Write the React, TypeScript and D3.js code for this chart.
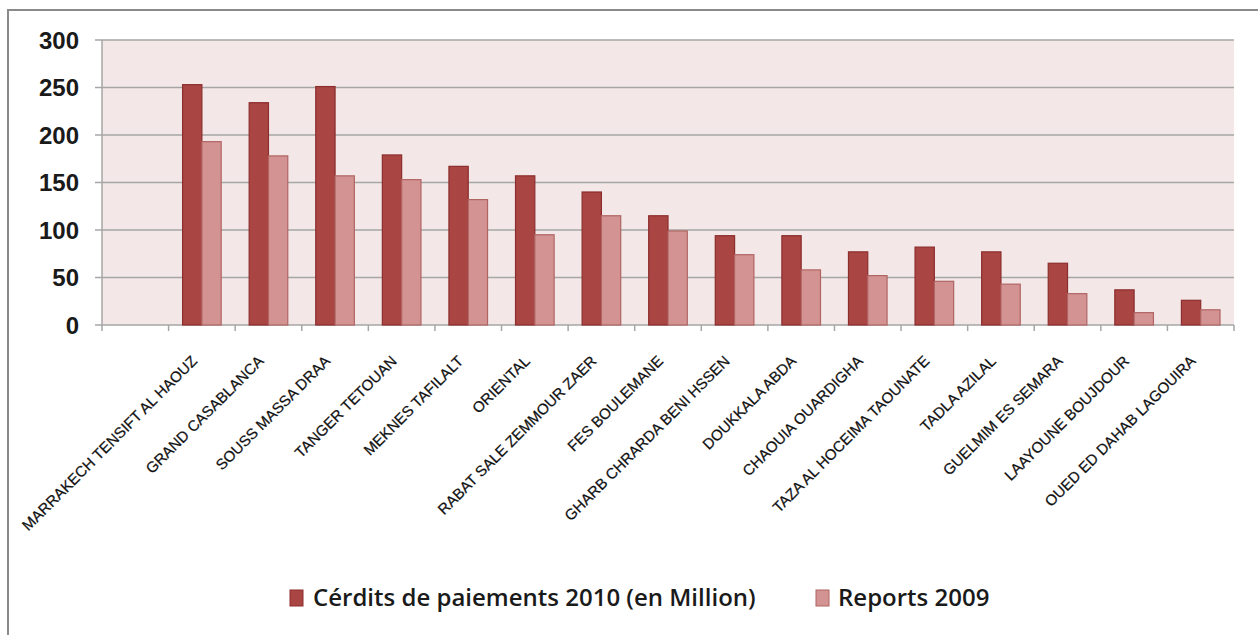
import React from "react";
import * as d3 from "d3";

const categories = [
  "",
  "MARRAKECH TENSIFT AL HAOUZ",
  "GRAND CASABLANCA",
  "SOUSS MASSA DRAA",
  "TANGER TETOUAN",
  "MEKNES TAFILALT",
  "ORIENTAL",
  "RABAT SALE ZEMMOUR ZAER",
  "FES BOULEMANE",
  "GHARB CHRARDA BENI HSSEN",
  "DOUKKALA ABDA",
  "CHAOUIA OUARDIGHA",
  "TAZA AL HOCEIMA TAOUNATE",
  "TADLA AZILAL",
  "GUELMIM ES SEMARA",
  "LAAYOUNE BOUJDOUR",
  "OUED ED DAHAB LAGOUIRA",
];

const credits2010: (number | null)[] = [null, 253, 234, 251, 179, 167, 157, 140, 115, 94, 94, 77, 82, 77, 65, 37, 26];
const reports2009: (number | null)[] = [null, 193, 178, 157, 153, 132, 95, 115, 99, 74, 58, 52, 46, 43, 33, 13, 16];

const yTicks = [0, 50, 100, 150, 200, 250, 300];

const seriesNames = ["Cérdits de paiements 2010 (en Million)", "Reports 2009"];

const W = 1258;
const H = 635;
const plot = { left: 102, right: 1234, top: 40, bottom: 325 };

const darkFill = "#A94543";
const darkStroke = "#8C2E2D";
const lightFill = "#D39392";
const lightStroke = "#B06563";

export default function App() {
  const x = d3.scaleBand<string>().domain(categories).range([plot.left, plot.right]).padding(0);
  const y = d3.scaleLinear().domain([0, 300]).range([plot.bottom, plot.top]);
  const bw = x.bandwidth();
  const barW = bw / (2 + 1.45);
  const off = (bw - 2 * barW) / 2;

  const series = [
    { values: credits2010, fill: darkFill, stroke: darkStroke },
    { values: reports2009, fill: lightFill, stroke: lightStroke },
  ];

  const tickXs = categories.map((c) => x(c)!).concat([plot.right]);

  return (
    <svg width={W} height={H} style={{ position: "absolute", left: 0, top: 0, background: "#fff" }}>
      {/* outer border */}
      <rect x={8} y={10} width={W + 20} height={H + 20} fill="none" stroke="#8a8a8a" strokeWidth={2} />
      {/* plot background */}
      <rect x={plot.left} y={plot.top} width={plot.right - plot.left} height={plot.bottom - plot.top} fill="#F3E7E7" />
      {/* gridlines */}
      {yTicks.map((t) => (
        <line key={"g" + t} x1={plot.left - 7} x2={plot.right} y1={y(t)} y2={y(t)} stroke="#A6A6A6" strokeWidth={1.5} />
      ))}
      {/* y axis line */}
      <line x1={plot.left} x2={plot.left} y1={plot.top} y2={plot.bottom} stroke="#A6A6A6" strokeWidth={1.5} />
      {/* x tick marks */}
      {tickXs.map((tx, i) => (
        <line key={"xt" + i} x1={tx} x2={tx} y1={plot.bottom} y2={plot.bottom + 6} stroke="#A6A6A6" strokeWidth={1.5} />
      ))}
      {/* y labels */}
      {yTicks.map((t) => (
        <text
          key={"yl" + t}
          x={79}
          y={y(t)}
          dy="0.36em"
          textAnchor="end"
          fontFamily="'Liberation Sans', Arial, sans-serif"
          fontWeight="bold"
          fontSize={24}
          fill="#1a1a1a"
        >
          {t}
        </text>
      ))}
      {/* bars */}
      {series.map((s, si) =>
        categories.map((c, i) => {
          const v = s.values[i];
          if (v == null) return null;
          const bx = x(c)! + off + si * barW;
          return (
            <rect
              key={"b" + si + "-" + i}
              x={bx}
              y={y(v)}
              width={barW}
              height={y(0) - y(v)}
              fill={s.fill}
              stroke={s.stroke}
              strokeWidth={1.2}
            />
          );
        })
      )}
      {/* x labels */}
      {categories.map((c) => {
        if (!c) return null;
        const cx = x(c)! + bw / 2;
        return (
          <text
            key={"xl" + c}
            transform={`translate(${cx - 4},${362}) rotate(-45)`}
            textAnchor="end"
            fontFamily="'Liberation Sans', Arial, sans-serif"
            fontSize={15}
            fill="#111"
            stroke="#111"
            strokeWidth={0.25}
          >
            {c}
          </text>
        );
      })}
      {/* legend */}
      <rect x={290} y={590} width={13} height={16} fill={darkFill} stroke={darkStroke} strokeWidth={1} />
      <text x={313} y={606} fontFamily="'Open Sans', sans-serif" fontWeight={600} fontSize={24} fill="#1a1a1a">
        {seriesNames[0]}
      </text>
      <rect x={816} y={590} width={13} height={16} fill={lightFill} stroke={lightStroke} strokeWidth={1} />
      <text x={838} y={606} fontFamily="'Open Sans', sans-serif" fontWeight={600} fontSize={24} fill="#1a1a1a">
        {seriesNames[1]}
      </text>
    </svg>
  );
}
